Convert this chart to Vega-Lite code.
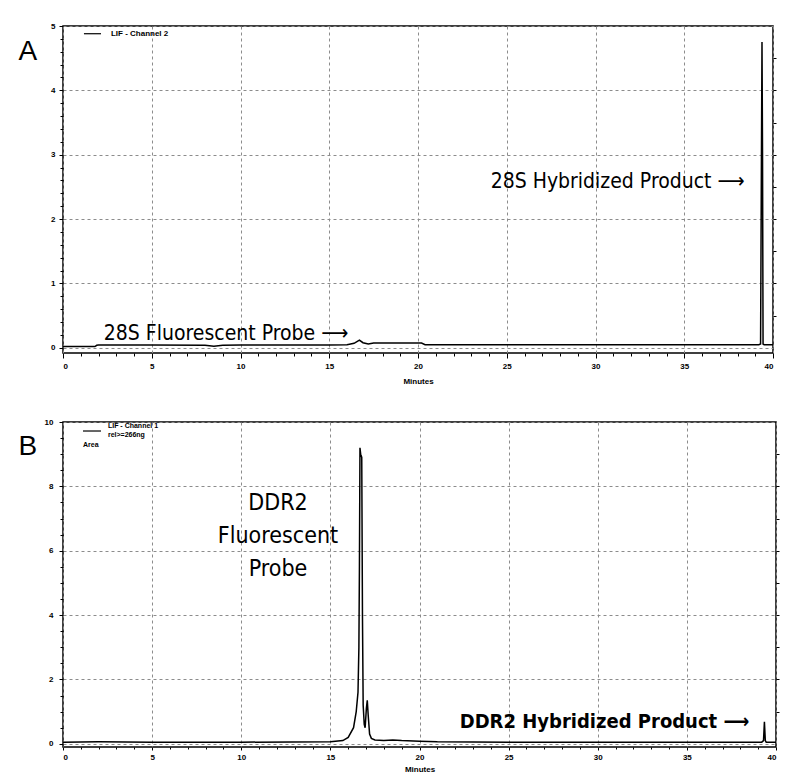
{
  "$schema": "https://vega.github.io/schema/vega-lite/v6.json",
  "background": "white",
  "padding": {"left": 17, "top": 21, "right": 5, "bottom": 5},
  "spacing": 31,
  "config": {
    "view": {"stroke": "black", "strokeWidth": 1.5},
    "axis": {
      "gridColor": "#8c8c8c", "gridDash": [3, 3], "gridWidth": 1,
      "domainColor": "black", "tickColor": "black", "tickWidth": 1,
      "labelFont": "Liberation Sans", "labelFontSize": 8, "labelFontWeight": "bold", "labelColor": "black",
      "titleFont": "Liberation Sans", "titleFontSize": 8, "titleFontWeight": "bold", "titleColor": "black"
    }
  },
  "datasets": {
    "a": [
      {"minutes": 0, "signal": 0.02}, {"minutes": 1.8, "signal": 0.02}, {"minutes": 1.9, "signal": 0.04},
      {"minutes": 2.0, "signal": 0.045}, {"minutes": 5, "signal": 0.045}, {"minutes": 8, "signal": 0.04},
      {"minutes": 8.5, "signal": 0.025}, {"minutes": 9, "signal": 0.04}, {"minutes": 10, "signal": 0.045},
      {"minutes": 15, "signal": 0.045}, {"minutes": 16.0, "signal": 0.05}, {"minutes": 16.4, "signal": 0.07},
      {"minutes": 16.7, "signal": 0.12}, {"minutes": 16.9, "signal": 0.08}, {"minutes": 17.2, "signal": 0.06},
      {"minutes": 17.5, "signal": 0.075}, {"minutes": 18, "signal": 0.075}, {"minutes": 20.2, "signal": 0.075},
      {"minutes": 20.4, "signal": 0.05}, {"minutes": 25, "signal": 0.05}, {"minutes": 30, "signal": 0.05},
      {"minutes": 35, "signal": 0.05}, {"minutes": 39.2, "signal": 0.05}, {"minutes": 39.3, "signal": 0.06},
      {"minutes": 39.35, "signal": 3.05}, {"minutes": 39.38, "signal": 4.75}, {"minutes": 39.41, "signal": 3.0},
      {"minutes": 39.44, "signal": 0.06}, {"minutes": 39.5, "signal": 0.05}, {"minutes": 40, "signal": 0.05}
    ],
    "b": [
      {"minutes": 0, "signal": 0.05}, {"minutes": 2, "signal": 0.06}, {"minutes": 5, "signal": 0.05},
      {"minutes": 10, "signal": 0.05}, {"minutes": 15, "signal": 0.06}, {"minutes": 15.7, "signal": 0.1},
      {"minutes": 16.0, "signal": 0.2}, {"minutes": 16.3, "signal": 0.5}, {"minutes": 16.45, "signal": 1.0},
      {"minutes": 16.55, "signal": 1.6}, {"minutes": 16.6, "signal": 3.0}, {"minutes": 16.63, "signal": 5.5},
      {"minutes": 16.66, "signal": 9.2}, {"minutes": 16.7, "signal": 9.0}, {"minutes": 16.76, "signal": 8.9},
      {"minutes": 16.8, "signal": 4.0}, {"minutes": 16.84, "signal": 1.2}, {"minutes": 16.9, "signal": 0.6},
      {"minutes": 16.95, "signal": 0.5}, {"minutes": 17.02, "signal": 1.1}, {"minutes": 17.07, "signal": 1.35},
      {"minutes": 17.12, "signal": 0.9}, {"minutes": 17.2, "signal": 0.3}, {"minutes": 17.3, "signal": 0.17},
      {"minutes": 17.5, "signal": 0.12}, {"minutes": 18, "signal": 0.1}, {"minutes": 18.5, "signal": 0.12},
      {"minutes": 19, "signal": 0.1}, {"minutes": 20, "signal": 0.08}, {"minutes": 21, "signal": 0.06},
      {"minutes": 25, "signal": 0.05}, {"minutes": 30, "signal": 0.05}, {"minutes": 35, "signal": 0.05},
      {"minutes": 39.2, "signal": 0.05}, {"minutes": 39.3, "signal": 0.1}, {"minutes": 39.35, "signal": 0.68},
      {"minutes": 39.4, "signal": 0.1}, {"minutes": 39.45, "signal": 0.05}, {"minutes": 40, "signal": 0.05}
    ],
    "legA": [{"x1": 1.18, "x2": 2.14, "y": 4.88}],
    "legB": [{"x1": 1.12, "x2": 2.13, "y": 9.72}],
    "smallA": [{"minutes": 2.7, "signal": 4.88, "label": "LIF - Channel 2"}],
    "smallB": [
      {"minutes": 2.52, "signal": 9.88, "label": "LIF - Channel 1"},
      {"minutes": 2.52, "signal": 9.6, "label": "rel>=266ng"},
      {"minutes": 1.12, "signal": 9.28, "label": "Area"}
    ],
    "probeA": [{"minutes": 2.3, "signal": 0.22, "label": "28S Fluorescent Probe ⟶"}],
    "hybA": [{"minutes": 38.4, "signal": 2.58, "label": "28S Hybridized Product ⟶"}],
    "probeB": [{"minutes": 12.06, "signal": 7.47, "label": "DDR2\nFluorescent\nProbe"}],
    "hybB": [{"minutes": 38.5, "signal": 0.69, "label": "DDR2 Hybridized Product ⟶"}]
  },
  "vconcat": [
    {
      "width": 710,
      "height": 327,
      "resolve": {"axis": {"x": "independent", "y": "independent"}},
      "layer": [
        {
          "data": {"name": "a"},
          "mark": {"type": "line", "color": "black", "strokeWidth": 1.5},
          "encoding": {
            "x": {"field": "minutes", "type": "quantitative",
              "scale": {"domain": [0, 40], "nice": false, "zero": false},
              "axis": {"orient": "bottom", "values": [0, 5, 10, 15, 20, 25, 30, 35, 40], "grid": true, "domain": false,
                "title": "Minutes", "tickSize": 5, "labelPadding": 4, "titlePadding": 7}},
            "y": {"field": "signal", "type": "quantitative",
              "scale": {"domain": [-0.08, 5], "nice": false, "zero": false},
              "axis": {"orient": "left", "values": [0, 1, 2, 3, 4, 5], "grid": true, "domain": false,
                "tickSize": 4, "labelPadding": 4,
                "title": "A", "titleAngle": 0, "titleX": -45, "titleY": 25, "titleAlign": "left", "titleBaseline": "middle",
                "titleFontSize": 28, "titleFontWeight": "normal"}}
          }
        },
        {
          "data": {"name": "a"},
          "mark": {"type": "point", "opacity": 0},
          "encoding": {
            "x": {"field": "minutes", "type": "quantitative",
              "axis": {"orient": "bottom", "values": [1,2,3,4,6,7,8,9,11,12,13,14,16,17,18,19,21,22,23,24,26,27,28,29,31,32,33,34,36,37,38,39],
                "labels": false, "grid": false, "domain": false, "tickSize": 3, "title": null}},
            "y": {"field": "signal", "type": "quantitative",
              "axis": {"orient": "left", "values": [0.2,0.4,0.6,0.8,1.2,1.4,1.6,1.8,2.2,2.4,2.6,2.8,3.2,3.4,3.6,3.8,4.2,4.4,4.6,4.8],
                "labels": false, "grid": false, "domain": false, "tickSize": 3, "title": null}}
          }
        },
        {
          "data": {"name": "legA"},
          "mark": {"type": "rule", "color": "black", "strokeWidth": 1.2},
          "encoding": {
            "x": {"field": "x1", "type": "quantitative", "axis": null},
            "x2": {"field": "x2"},
            "y": {"field": "y", "type": "quantitative",
              "axis": {"orient": "right", "values": [0.5,1,1.5,2,2.5,3,3.5,4,4.5], "labels": false, "grid": false, "domain": false, "tickSize": 3, "title": null}}
          }
        },
        {
          "data": {"name": "smallA"},
          "mark": {"type": "text", "align": "left", "baseline": "middle", "font": "Liberation Sans", "fontSize": 8, "fontWeight": "bold", "color": "black"},
          "encoding": {
            "x": {"field": "minutes", "type": "quantitative", "axis": null},
            "y": {"field": "signal", "type": "quantitative", "axis": null},
            "text": {"field": "label"}
          }
        },
        {
          "data": {"name": "probeA"},
          "mark": {"type": "text", "align": "left", "baseline": "middle", "font": "Liberation Sans Narrow, DejaVu Sans Condensed, Liberation Sans", "fontSize": 21, "color": "black"},
          "encoding": {
            "x": {"field": "minutes", "type": "quantitative", "axis": null},
            "y": {"field": "signal", "type": "quantitative", "axis": null},
            "text": {"field": "label"}
          }
        },
        {
          "data": {"name": "hybA"},
          "mark": {"type": "text", "align": "right", "baseline": "middle", "font": "Liberation Sans Narrow, DejaVu Sans Condensed, Liberation Sans", "fontSize": 21, "color": "black"},
          "encoding": {
            "x": {"field": "minutes", "type": "quantitative", "axis": null},
            "y": {"field": "signal", "type": "quantitative", "axis": null},
            "text": {"field": "label"}
          }
        }
      ]
    },
    {
      "width": 713,
      "height": 325,
      "resolve": {"axis": {"x": "independent", "y": "independent"}},
      "layer": [
        {
          "data": {"name": "b"},
          "mark": {"type": "line", "color": "black", "strokeWidth": 1.5},
          "encoding": {
            "x": {"field": "minutes", "type": "quantitative",
              "scale": {"domain": [0, 40], "nice": false, "zero": false},
              "axis": {"orient": "bottom", "values": [0, 5, 10, 15, 20, 25, 30, 35, 40], "grid": true, "domain": false,
                "title": "Minutes", "tickSize": 3, "labelPadding": 3, "titlePadding": 4}},
            "y": {"field": "signal", "type": "quantitative",
              "scale": {"domain": [-0.1, 10], "nice": false, "zero": false},
              "axis": {"orient": "left", "values": [0, 2, 4, 6, 8, 10], "grid": true, "domain": false,
                "tickSize": 4, "labelPadding": 6,
                "title": "B", "titleAngle": 0, "titleX": -45, "titleY": 24, "titleAlign": "left", "titleBaseline": "middle",
                "titleFontSize": 28, "titleFontWeight": "normal"}}
          }
        },
        {
          "data": {"name": "b"},
          "mark": {"type": "point", "opacity": 0},
          "encoding": {
            "x": {"field": "minutes", "type": "quantitative",
              "axis": {"orient": "bottom", "values": [1,2,3,4,6,7,8,9,11,12,13,14,16,17,18,19,21,22,23,24,26,27,28,29,31,32,33,34,36,37,38,39],
                "labels": false, "grid": false, "domain": false, "tickSize": 2, "title": null}},
            "y": {"field": "signal", "type": "quantitative",
              "axis": {"orient": "left", "values": [0.5,1,1.5,2.5,3,3.5,4.5,5,5.5,6.5,7,7.5,8.5,9,9.5],
                "labels": false, "grid": false, "domain": false, "tickSize": 3, "title": null}}
          }
        },
        {
          "data": {"name": "legB"},
          "mark": {"type": "rule", "color": "black", "strokeWidth": 1.2},
          "encoding": {
            "x": {"field": "x1", "type": "quantitative", "axis": null},
            "x2": {"field": "x2"},
            "y": {"field": "y", "type": "quantitative",
              "axis": {"orient": "right", "values": [1,2,3,4,5,6,7,8,9], "labels": false, "grid": false, "domain": false, "tickSize": 3, "title": null}}
          }
        },
        {
          "data": {"name": "smallB"},
          "mark": {"type": "text", "align": "left", "baseline": "middle", "font": "Liberation Sans", "fontSize": 7, "fontWeight": "bold", "color": "black"},
          "encoding": {
            "x": {"field": "minutes", "type": "quantitative", "axis": null},
            "y": {"field": "signal", "type": "quantitative", "axis": null},
            "text": {"field": "label"}
          }
        },
        {
          "data": {"name": "probeB"},
          "mark": {"type": "text", "align": "center", "baseline": "middle", "lineBreak": "\n", "lineHeight": 33, "font": "Liberation Sans Narrow, DejaVu Sans Condensed, Liberation Sans", "fontSize": 23, "color": "black"},
          "encoding": {
            "x": {"field": "minutes", "type": "quantitative", "axis": null},
            "y": {"field": "signal", "type": "quantitative", "axis": null},
            "text": {"field": "label"}
          }
        },
        {
          "data": {"name": "hybB"},
          "mark": {"type": "text", "align": "right", "baseline": "middle", "font": "Liberation Sans Narrow, DejaVu Sans Condensed, Liberation Sans", "fontSize": 20, "fontWeight": "bold", "color": "black"},
          "encoding": {
            "x": {"field": "minutes", "type": "quantitative", "axis": null},
            "y": {"field": "signal", "type": "quantitative", "axis": null},
            "text": {"field": "label"}
          }
        }
      ]
    }
  ]
}
